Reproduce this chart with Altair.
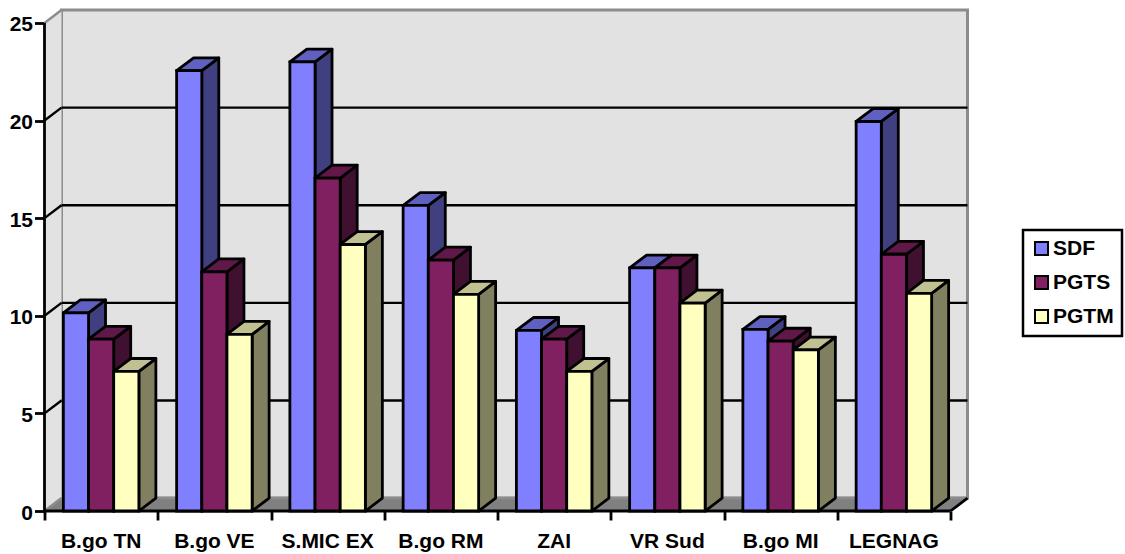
import altair as alt
import pandas as pd

# Chart values
categories = ["B.go TN", "B.go VE", "S.MIC EX", "B.go RM", "ZAI", "VR Sud", "B.go MI", "LEGNAG"]
sdf = [10.15, 22.55, 23.0, 15.65, 9.25, 12.45, 9.3, 19.95]
pgts = [8.8, 12.25, 17.05, 12.85, 8.8, 12.45, 8.7, 13.15]
pgtm = [7.15, 9.05, 13.65, 11.1, 7.15, 10.65, 8.25, 11.15]
series_names = ["SDF", "PGTS", "PGTM"]
series_values = [sdf, pgts, pgtm]
y_ticks = [0, 5, 10, 15, 20, 25]

# Face colours per series: front, top, side
front_colors = ["#8080ff", "#802060", "#ffffc0"]
top_colors = ["#6060c0", "#601848", "#c0c090"]
side_colors = ["#404080", "#401030", "#808060"]

WALL = "#e2e2e2"
FLOOR = "#808080"
EDGE = "#8c8c8c"
FONT = "Liberation Sans"

# Oblique projection depth, in axis units
DX = 0.15
DY = 0.66
# Bar layout inside a category slot (gap width of 150%)
BAR = 1 / 4.5
GAP = 0.75 * BAR
N = len(categories)
Y_TOP = 25

x_scale = alt.Scale(domain=[0, N + DX], range=[0, 923], nice=False, zero=False)
y_scale = alt.Scale(domain=[0, Y_TOP + DY], range=[501, 0], nice=False, zero=False)
x_axis = alt.Axis(
    values=list(range(N + 1)), labels=False, title=None, domain=False, grid=False,
    tickColor="black", tickWidth=2.8, tickSize=9)
y_axis = alt.Axis(
    values=y_ticks, title=None, domain=False, grid=False, tickColor="black", tickWidth=2.8,
    tickSize=10, labelFont=FONT, labelFontWeight="bold", labelFontSize=21, labelColor="black",
    labelPadding=2, labelOffset=2)
X = lambda f="x": alt.X(f"{f}:Q", scale=x_scale, axis=x_axis)
Y = lambda f="y": alt.Y(f"{f}:Q", scale=y_scale, axis=y_axis)


def area_layer(rows, fill, stroke=None, width=2.8):
    """Filled polygons whose outline is described by x / y / y2 rows with a face id."""
    kw = dict(fill=fill, interpolate="linear", strokeJoin="round")
    if stroke:
        kw.update(stroke=stroke, strokeWidth=width)
    return alt.Chart(pd.DataFrame(rows)).mark_area(**kw).encode(
        x=X(), y=Y(), y2=alt.Y2("y2:Q"), detail="face:N"
    )


def line_layer(rows, color, width=2.0):
    return alt.Chart(pd.DataFrame(rows)).mark_line(color=color, strokeWidth=width, clip=False).encode(
        x=X(), y=Y(), detail="id:N", order="k:Q"
    )


def segment(seg_id, x0, y0, x1, y1):
    return [dict(id=seg_id, k=0, x=x0, y=y0), dict(id=seg_id, k=1, x=x1, y=y1)]


# Box walls and floor
back_wall = alt.Chart(pd.DataFrame([dict(x=DX, x2=N + DX, y=DY, y2=Y_TOP + DY)])).mark_rect(
    fill=WALL, stroke=EDGE, strokeWidth=3
).encode(x=X(), x2=alt.X2("x2:Q"), y=Y(), y2=alt.Y2("y2:Q"))

left_wall = area_layer(
    [dict(face=0, x=0, y=0, y2=Y_TOP), dict(face=0, x=DX, y=DY, y2=Y_TOP + DY)], WALL
)
floor = area_layer(
    [dict(face=0, x=0, y=0, y2=0), dict(face=0, x=DX, y=0, y2=DY),
     dict(face=0, x=N, y=0, y2=DY), dict(face=0, x=N + DX, y=DY, y2=DY)], FLOOR
)

# Gridlines on the walls
grid_rows = []
for v in y_ticks[1:-1]:
    grid_rows += segment(f"b{v}", DX, v + DY, N + DX, v + DY)
    grid_rows += segment(f"s{v}", 0, v, DX, v + DY)
grid = line_layer(grid_rows, "black", 2.4)

edge_rows = segment("top", 0, Y_TOP, DX, Y_TOP + DY) + segment("low", 0, 0, DX, DY) + segment("lowb", DX, DY, N + DX, DY)
edges = line_layer(edge_rows, EDGE, 2.5)

# Bars: per series a layer of side and top faces, then the front faces
bar_layers = []
for s, (name, values) in enumerate(zip(series_names, series_values)):
    side_rows, top_rows, front_rows = [], [], []
    for c, v in enumerate(values):
        x0 = c + GAP + s * BAR
        x1 = x0 + BAR
        side_rows += [dict(face=c, x=x1, y=0, y2=v), dict(face=c, x=x1 + DX, y=DY, y2=v + DY)]
        top_rows += [
            dict(face=c, x=x0, y=v, y2=v),
            dict(face=c, x=x0 + DX, y=v, y2=v + DY),
            dict(face=c, x=x1, y=v, y2=v + DY),
            dict(face=c, x=x1 + DX, y=v + DY, y2=v + DY),
        ]
        front_rows.append(dict(series=name, x=x0, x2=x1, y=0, y2=v))
    bar_layers.append(area_layer(side_rows, side_colors[s], "black"))
    bar_layers.append(area_layer(top_rows, top_colors[s], "black"))
    bar_layers.append(
        alt.Chart(pd.DataFrame(front_rows)).mark_rect(stroke="black", strokeWidth=2.8).encode(
            x=X(), x2=alt.X2("x2:Q"), y=Y(), y2=alt.Y2("y2:Q"),
            fill=alt.Fill("series:N", scale=alt.Scale(domain=series_names, range=front_colors),
                          legend=alt.Legend(
                              title=None, orient="none", legendX=978.5, legendY=220,
                              symbolType="square", symbolSize=170, symbolStrokeColor="black",
                              symbolStrokeWidth=2, labelFont=FONT, labelFontWeight="bold",
                              labelFontSize=21, labelColor="black", labelOffset=1,
                              rowPadding=11, padding=8, fillColor="white",
                              strokeColor="black")),
        )
    )

# Black axis lines and the closing floor edge, above the floor
axis_rows = segment("yaxis", 0, 0, 0, Y_TOP) + segment("xaxis", 0, 0, N, 0) + segment("right", N, 0, N + DX, DY)
axis_lines = line_layer(axis_rows, "black", 2.8)

# Category labels, centred under each slot
labels = alt.Chart(pd.DataFrame({"name": categories, "x": [i + 0.5 for i in range(N)]})).mark_text(
    font=FONT, fontWeight="bold", fontSize=21, color="black", baseline="middle", align="center"
).encode(x=X(), y=alt.value(532), text="name:N")

chart = alt.layer(
    back_wall, left_wall, floor, grid, edges, axis_lines, *bar_layers, labels
).properties(
    width=923, height=501,
    padding={"left": 44.5, "top": 10, "right": 157.5, "bottom": 43},
    autosize=alt.AutoSizeParams(type="none"),
    background="white",
).configure_view(stroke=None).configure_legend(strokeWidth=2.5)

chart.save("out.html", embed_options={"renderer": "svg", "actions": False})
